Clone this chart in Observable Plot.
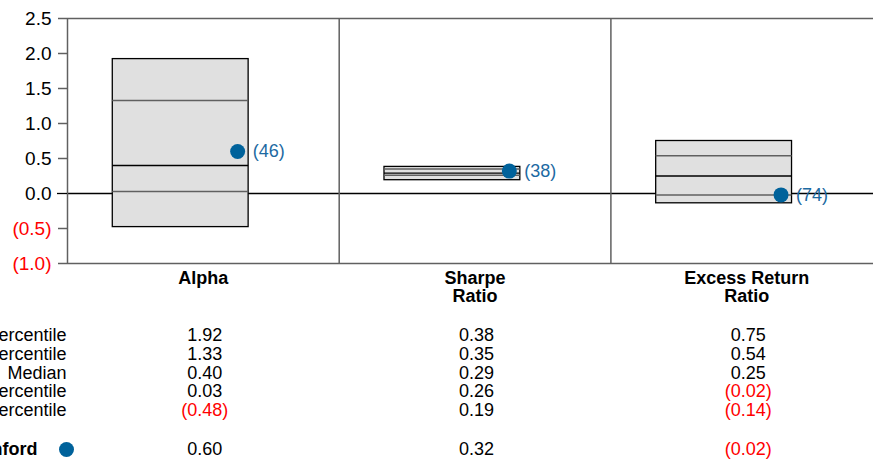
<!DOCTYPE html>
<html>
<head>
<meta charset="utf-8">
<script src="https://cdn.jsdelivr.net/npm/d3@7"></script>
<script src="https://cdn.jsdelivr.net/npm/@observablehq/plot@0.6"></script>
<style>
  html, body { margin: 0; padding: 0; background: white; overflow: hidden; }
  #chart svg { overflow: hidden; }
</style>
</head>
<body>
<div id="chart"></div>
<script>
// ---- data ----
const metrics = ["Alpha", "Sharpe\nRatio", "Excess Return\nRatio"];
const p10 = [1.92, 0.38, 0.75];
const p25 = [1.33, 0.35, 0.54];
const median = [0.40, 0.29, 0.25];
const p75 = [0.03, 0.26, -0.02];
const p90 = [-0.48, 0.19, -0.14];
const fundValue = [0.60, 0.32, -0.02];
const fundRank = [46, 38, 74];
const fundName = "Stanford";
const rowLabels = ["10th Percentile", "25th Percentile", "Median", "75th Percentile", "90th Percentile"];
const yTicks = [-1.0, -0.5, 0.0, 0.5, 1.0, 1.5, 2.0, 2.5];

// ---- helpers ----
const idx = metrics.map((_, i) => i);
const fmt2 = v => v < 0 ? `(${(-v).toFixed(2)})` : v.toFixed(2);
const fmt1 = v => v < 0 ? `(${(-v).toFixed(1)})` : v.toFixed(1);
const neg = v => v < 0 ? "#ff0000" : "#000000";
const GRAY = "#606060";
const DOT = "#00629b";
const LABEL = "#1d6aa2";
const TFS = 18;

const rowSeries = [p10, p25, median, p75, p90];
const rowOffsets = [72, 90.5, 109.5, 128, 147];
const fundOffset = 186;

const tableMarks = [];
rowSeries.forEach((series, r) => {
  tableMarks.push(Plot.text([rowLabels[r]], {
    x: () => 0, frameAnchor: "bottom", dy: rowOffsets[r], dx: -1,
    text: d => d, textAnchor: "end", lineAnchor: "middle", fontSize: TFS, fill: "black"
  }));
  tableMarks.push(Plot.text(idx, {
    x: i => i + 0.5, frameAnchor: "bottom", dy: rowOffsets[r], dx: 1.5,
    text: i => fmt2(series[i]), fill: i => neg(series[i]),
    textAnchor: "middle", lineAnchor: "middle", fontSize: TFS
  }));
});
tableMarks.push(Plot.text([fundName], {
  x: () => 0, frameAnchor: "bottom", dy: fundOffset, dx: -30,
  text: d => d, textAnchor: "end", lineAnchor: "middle", fontSize: TFS, fontWeight: "bold", fill: "black"
}));
tableMarks.push(Plot.dot([fundName], {
  x: () => 0, frameAnchor: "bottom", dy: fundOffset, dx: -1, r: 7.5, fill: DOT
}));
tableMarks.push(Plot.text(idx, {
  x: i => i + 0.5, frameAnchor: "bottom", dy: fundOffset, dx: 1.5,
  text: i => fmt2(fundValue[i]), fill: i => neg(fundValue[i]),
  textAnchor: "middle", lineAnchor: "middle", fontSize: TFS
}));

const panelW = 271.7;
const chart = Plot.plot({
  width: 873,
  height: 459,
  marginLeft: 67,
  marginRight: 0,
  marginTop: 18,
  marginBottom: 196,
  style: { fontFamily: "'Liberation Sans', Arial, sans-serif", background: "white" },
  x: { domain: [0, 3], range: [67, 67 + 3 * panelW], axis: null },
  y: { domain: [-1, 2.5], axis: null },
  color: { type: "identity" },
  marks: [
    // zero line (behind boxes)
    Plot.ruleY([0], { x1: 0, x2: 3, stroke: "black", strokeWidth: 1.3 }),
    // panel frame
    Plot.ruleY([2.5, -1], { x1: 0, x2: 3, stroke: GRAY, strokeWidth: 1.5 }),
    Plot.ruleX([0, 1, 2], { y1: -1, y2: 2.5, stroke: GRAY, strokeWidth: 1.5 }),
    // y axis ticks and labels
    Plot.axisY(yTicks.filter(t => t !== 0), {
      tickSize: 9, tickPadding: 7, stroke: GRAY, strokeWidth: 1.5,
      tickFormat: fmt1, fill: d => neg(d), fontSize: 19
    }),
    Plot.axisY([0], {
      tickSize: 10, tickPadding: 6, stroke: "black", strokeWidth: 1.3,
      tickFormat: fmt1, fill: "black", fontSize: 19
    }),
    // boxes
    Plot.rect(idx, {
      x1: i => i + 1 / 6, x2: i => i + 2 / 3, y1: i => p90[i], y2: i => p10[i],
      fill: "#e0e0e0", stroke: "black", strokeWidth: 1.3
    }),
    Plot.ruleY(idx, { y: i => p25[i], x1: i => i + 1 / 6, x2: i => i + 2 / 3, stroke: GRAY, strokeWidth: 1.5 }),
    Plot.ruleY(idx, { y: i => p75[i], x1: i => i + 1 / 6, x2: i => i + 2 / 3, stroke: GRAY, strokeWidth: 1.5 }),
    Plot.ruleY(idx, { y: i => median[i], x1: i => i + 1 / 6, x2: i => i + 2 / 3, stroke: "black", strokeWidth: 1.3 }),
    // fund dots and ranks
    Plot.dot(idx, { x: i => i + 2 / 3, y: i => fundValue[i], dx: -11, r: 7.5, fill: DOT }),
    Plot.text(idx, {
      x: i => i + 2 / 3, y: i => fundValue[i], dx: 4, text: i => `(${fundRank[i]})`,
      textAnchor: "start", fill: LABEL, fontSize: 18
    }),
    // column headers
    Plot.text(idx, {
      x: i => i + 0.5, frameAnchor: "bottom", dy: 7, text: i => metrics[i],
      textAnchor: "middle", lineAnchor: "top", lineHeight: 1.02,
      fontSize: 18, fontWeight: "bold", fill: "black"
    }),
    ...tableMarks
  ]
});
document.getElementById("chart").appendChild(chart);
</script>
</body>
</html>
